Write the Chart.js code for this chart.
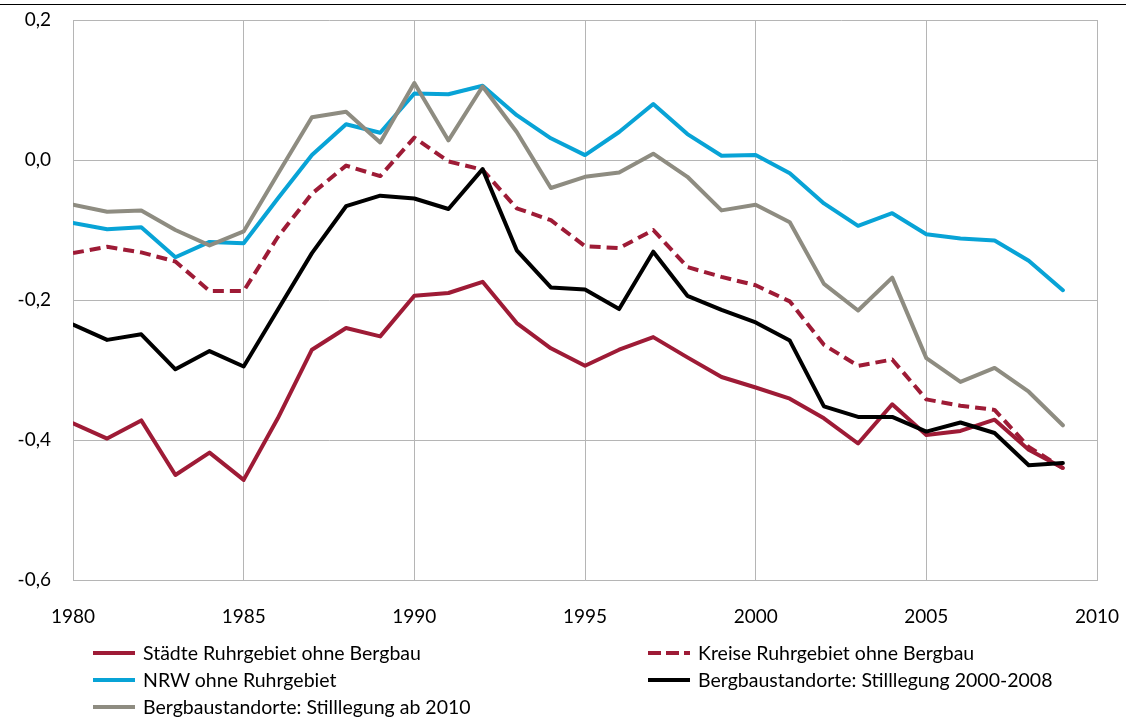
<!DOCTYPE html>
<html lang="de">
<head>
<meta charset="utf-8">
<title>Ruhrgebiet</title>
<script src="https://cdn.jsdelivr.net/npm/chart.js@4.4.1/dist/chart.umd.min.js"></script>
<style>
  html, body { margin: 0; padding: 0; background: #fff; }
  #wrap { position: relative; width: 1126px; height: 718px; }
  #topRule { position: absolute; left: 0; top: 4px; width: 1126px; height: 1px; background: #000; }
  #legend {
    position: absolute; left: 93px; top: 639px;
    display: grid; grid-template-columns: 555px 420px; grid-auto-rows: 27px;
    font-family: Lato, "Noto Sans", sans-serif; font-size: 19.5px; color: #000;
  }
  #legend .item { display: flex; align-items: center; white-space: nowrap; }
  #legend svg { margin-right: 8px; flex: none; }
</style>
</head>
<body>
<div id="wrap">
  <canvas id="chart"></canvas>
  <div id="topRule"></div>
  <div id="legend"></div>
</div>
<script>
// Jahre und Werte
const years = [1980, 1981, 1982, 1983, 1984, 1985, 1986, 1987, 1988, 1989,
               1990, 1991, 1992, 1993, 1994, 1995, 1996, 1997, 1998, 1999,
               2000, 2001, 2002, 2003, 2004, 2005, 2006, 2007, 2008, 2009];

const staedte = [-0.376, -0.398, -0.372, -0.450, -0.418, -0.457, -0.369, -0.271, -0.240, -0.252,
                 -0.194, -0.190, -0.174, -0.233, -0.269, -0.294, -0.271, -0.253, -0.282, -0.310,
                 -0.325, -0.341, -0.369, -0.405, -0.349, -0.393, -0.387, -0.371, -0.414, -0.440];

const kreise = [-0.133, -0.124, -0.132, -0.145, -0.187, -0.187, -0.110, -0.048, -0.008, -0.023,
                0.032, -0.002, -0.014, -0.069, -0.086, -0.123, -0.126, -0.100, -0.153, -0.167,
                -0.179, -0.202, -0.264, -0.294, -0.285, -0.342, -0.351, -0.357, -0.410, -0.440];

const nrw = [-0.090, -0.099, -0.096, -0.139, -0.117, -0.119, -0.055, 0.007, 0.051, 0.039,
             0.095, 0.094, 0.106, 0.064, 0.031, 0.007, 0.040, 0.080, 0.037, 0.006,
             0.007, -0.019, -0.062, -0.094, -0.076, -0.106, -0.112, -0.115, -0.144, -0.186];

const berg2000 = [-0.235, -0.257, -0.249, -0.299, -0.273, -0.295, -0.214, -0.133, -0.066, -0.051,
                  -0.055, -0.070, -0.013, -0.129, -0.182, -0.185, -0.213, -0.131, -0.194, -0.214,
                  -0.232, -0.258, -0.352, -0.367, -0.367, -0.388, -0.375, -0.390, -0.436, -0.433];

const berg2010 = [-0.064, -0.074, -0.072, -0.100, -0.122, -0.102, -0.020, 0.061, 0.069, 0.025,
                  0.110, 0.028, 0.105, 0.040, -0.040, -0.024, -0.018, 0.009, -0.024, -0.072,
                  -0.064, -0.089, -0.177, -0.215, -0.168, -0.283, -0.317, -0.297, -0.331, -0.379];

const seriesNames = ['Städte Ruhrgebiet ohne Bergbau', 'Kreise Ruhrgebiet ohne Bergbau',
                     'NRW ohne Ruhrgebiet', 'Bergbaustandorte: Stilllegung 2000-2008',
                     'Bergbaustandorte: Stilllegung ab 2010'];

const RED = '#9e1b36', BLUE = '#08a3d6', GREY = '#8e8c81', BLACK = '#000000';
const GRID = '#b5b5b5';
const FONT = 'Lato, "Noto Sans", sans-serif';

const pts = vals => years.map((y, i) => ({ x: y, y: vals[i] }));

function ds(label, vals, color, order, dash) {
    return {
        label: label,
        data: pts(vals),
        borderColor: color,
        backgroundColor: color,
        borderWidth: 4,
        borderDash: dash || [],
        borderCapStyle: dash ? 'butt' : 'round',
        borderJoinStyle: 'round',
        pointRadius: 0,
        tension: 0,
        fill: false,
        order: order
    };
}

const datasets = [
    ds(seriesNames[0], staedte, RED, 2),
    ds(seriesNames[1], kreise, RED, 4, [11, 6]),
    ds(seriesNames[2], nrw, BLUE, 3),
    ds(seriesNames[3], berg2000, BLACK, 1),
    ds(seriesNames[4], berg2010, GREY, 0)
];

const chart = new Chart(document.getElementById('chart'), {
    type: 'line',
    data: { datasets: datasets },
    options: {
        responsive: true,
        maintainAspectRatio: false,
        animation: false,
        layout: { padding: { top: 20, right: 29, bottom: 0, left: 0 } },
        scales: {
            x: {
                type: 'linear',
                min: 1980, max: 2010,
                // feste Achsenhöhe, Label-Überstand nicht zusätzlich einrechnen
                afterFit: s => { s.height = 138; s.paddingLeft = 0; s.paddingRight = 0; },
                ticks: {
                    stepSize: 5,
                    padding: 25,
                    color: '#000',
                    font: { family: FONT, size: 19 },
                    callback: v => String(v)
                },
                grid: { color: GRID, lineWidth: 1, drawTicks: false },
                border: { color: GRID, width: 1 }
            },
            y: {
                min: -0.6, max: 0.2,
                afterFit: s => { s.width = 73; s.paddingTop = 0; s.paddingBottom = 0; },
                ticks: {
                    stepSize: 0.2,
                    padding: 22,
                    color: '#000',
                    font: { family: FONT, size: 19 },
                    callback: v => (Math.round(v * 10) / 10).toFixed(1).replace('.', ',')
                },
                grid: { color: GRID, lineWidth: 1, drawTicks: false },
                border: { color: GRID, width: 1 }
            }
        },
        plugins: {
            legend: { display: false },
            tooltip: { enabled: false }
        }
    }
});

// HTML-Legende in zwei Spalten
const legend = document.getElementById('legend');
chart.data.datasets.forEach(d => {
    const item = document.createElement('div');
    item.className = 'item';
    const dash = d.borderDash.length ? 'stroke-dasharray="13 5"' : '';
    item.innerHTML =
        '<svg width="42" height="6"><line x1="0" y1="3" x2="42" y2="3" stroke="' + d.borderColor +
        '" stroke-width="4" ' + dash + '/></svg><span>' + d.label + '</span>';
    legend.appendChild(item);
});
</script>
</body>
</html>
